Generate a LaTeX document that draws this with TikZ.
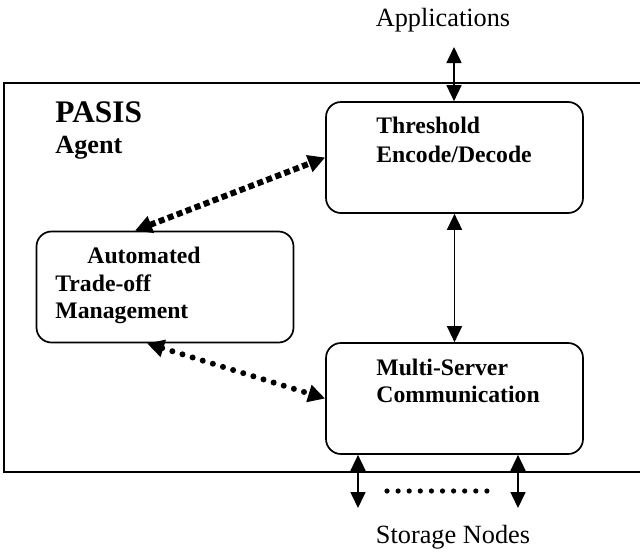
\documentclass[tikz,border=0pt]{standalone}
\usepackage{fontspec}
\setmainfont{Liberation Serif}
\usetikzlibrary{arrows.meta}
\tikzset{
  module/.style={draw, line width=0.85pt, rounded corners=7.5pt, minimum width=128.5pt, minimum height=55.5pt, inner sep=0pt},
  modtext/.style={anchor=base west, inner sep=0pt, font=\fontsize{11.85}{14}\selectfont\bfseries},
  outside/.style={anchor=base, inner sep=0pt, font=\fontsize{13.15}{15}\selectfont},
  link/.style={line width=0.8pt, {Triangle[length=8pt,width=7.5pt]}-{Triangle[length=8pt,width=7.5pt]}},
  squaredots/.style={line width=3pt, dash pattern=on 3pt off 1.8pt, {Triangle[length=8.5pt,width=8.5pt]}-{Triangle[length=8.5pt,width=8.5pt]}},
  rounddots/.style={line width=3pt, line cap=round, dash pattern=on 0pt off 5.3pt, {Triangle[length=8.5pt,width=8.5pt]}-{Triangle[length=8.5pt,width=8.5pt]}}
}
\begin{document}
\begin{tikzpicture}[x=0.5pt,y=-0.5pt]
	\useasboundingbox (0,0) rectangle (640,552);
	%\draw [help lines] (0,0) grid (640,552);
	\draw [line width=1pt] (640,83) -- (4,83) -- (4,472) -- (640,472);
	
	\node [anchor=base west, inner sep=0pt, font=\fontsize{15.7}{18}\selectfont\bfseries] (pasis) at (55,122) {PASIS};
	\node [anchor=base west, inner sep=0pt, font=\fontsize{13.1}{15}\selectfont\bfseries] (agent) at (55,153) {Agent};
	
	\node [module] (thr) at (454.5,157.5) {};
	\node [module] (msc) at (454.5,398.5) {};
	\node [module] (atm) at (165,287) {};
	
	\node [modtext] (thr1) at (376,133) {Threshold};
	\node [modtext] (thr2) at (376,162) {Encode/Decode};
	\node [modtext] (msc1) at (376,375) {Multi-Server};
	\node [modtext] (msc2) at (376,402) {Communication};
	\node [modtext] (atm1) at (87,263) {Automated};
	\node [modtext] (atm2) at (55,291) {Trade-off};
	\node [modtext] (atm3) at (55,318) {Management};
	
	\node [outside] (app) at (443,26) {Applications};
	\node [outside] (sto) at (453,543) {Storage Nodes};
	
	\coordinate (append) at (454,47);
	\coordinate (sn1) at (358,508);
	\coordinate (sn2) at (518,508);
	\coordinate (atmin) at (135,0);
	\coordinate (atmout) at (147,0);
	
	\draw [link] (append) -- (append |- thr.north);
	\draw [link] (thr.south) -- (msc.north);
	\draw [link] (sn1 |- msc.south) -- (sn1);
	\draw [link] (sn2 |- msc.south) -- (sn2);
	\foreach \i in {0,...,9}
		\fill (387+11.1*\i,491) circle (1.3pt);
	
	\draw [squaredots] (atm.north -| atmin) -- (thr.west);
	\draw [rounddots] (atm.south -| atmout) -- (msc.west);
\end{tikzpicture}
\end{document}
